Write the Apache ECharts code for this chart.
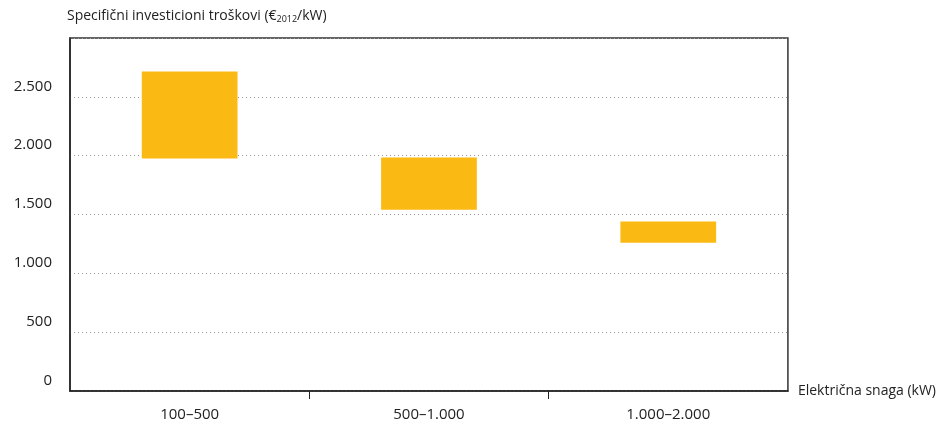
<!DOCTYPE html>
<html>
<head>
<meta charset="utf-8">
<script src="https://cdn.jsdelivr.net/npm/echarts@6/dist/echarts.min.js"></script>
<style>html,body{margin:0;padding:0;background:#fff}#c{width:939px;height:423px}</style>
</head>
<body>
<div id="c"></div>
<script>
const categories = ['100–500', '500–1.000', '1.000–2.000'];
const lowValues = [1975, 1540, 1260];
const highValues = [2715, 1985, 1440];
const yTicks = [0, 500, 1000, 1500, 2000, 2500, 3000];
const FONT = '"Open Sans", "Noto Sans", sans-serif';

const rangeValues = highValues.map((h, i) => h - lowValues[i]);
const chart = echarts.init(document.getElementById('c'), null, {renderer: 'canvas'});
chart.setOption({
  animation: false,
  textStyle: {fontFamily: FONT},
  grid: {left: 70, right: 149, top: 38, bottom: 32, show: true, borderColor: '#333', borderWidth: 1.5, containLabel: false},
  xAxis: [{
    type: 'category',
    data: categories,
    name: 'Električna snaga (kW)',
    nameLocation: 'end',
    nameGap: 10,
    nameTextStyle: {color: '#222', fontSize: 14, fontFamily: FONT, verticalAlign: 'middle', padding: [0, 0, 12, 0]},
    axisLine: {lineStyle: {color: '#222', width: 1.5}},
    axisTick: {show: false},
    axisLabel: {color: '#222', fontSize: 15, margin: 16, fontFamily: FONT}
  }, {
    type: 'value',
    position: 'bottom',
    min: 0, max: categories.length,
    axisLine: {show: false},
    axisLabel: {show: false},
    splitLine: {show: false},
    axisTick: {show: true, length: 8, lineStyle: {color: '#222'}, customValues: categories.slice(1).map((c, i) => i + 1)}
  }],
  yAxis: {
    type: 'value',
    min: 0, max: 3000, interval: 500,
    name: 'Specifični investicioni troškovi (€{s|2012}/kW)',
    nameLocation: 'end',
    nameGap: 14,
    nameTextStyle: {color: '#222', fontSize: 14, fontFamily: FONT, align: 'left', padding: [0, 0, 0, -3],
      rich: {s: {fontSize: 9, verticalAlign: 'bottom', padding: [7, 0, 0, 0], color: '#222', fontFamily: FONT}}},
    axisLine: {show: true, lineStyle: {color: '#222', width: 1.5}},
    axisTick: {show: false},
    splitLine: {show: true, lineStyle: {color: '#999', type: [1, 3], width: 1}},
    axisLabel: {
      color: '#222', fontSize: 15, margin: 18, fontFamily: FONT, verticalAlign: 'bottom', padding: [0, 0, 3, 0],
      formatter: function (v) {
        if (v === 3000) return '';
        return v >= 1000 ? String(v).replace(/(\d)(\d{3})$/, '$1.$2') : String(v);
      }
    }
  },
  series: [
    {type: 'bar', stack: 'r', data: lowValues, itemStyle: {color: 'transparent'}, barWidth: '40%', silent: true},
    {type: 'bar', stack: 'r', data: rangeValues, itemStyle: {color: '#FBB914'}, barWidth: '40%'}
  ]
});
</script>
</body>
</html>
